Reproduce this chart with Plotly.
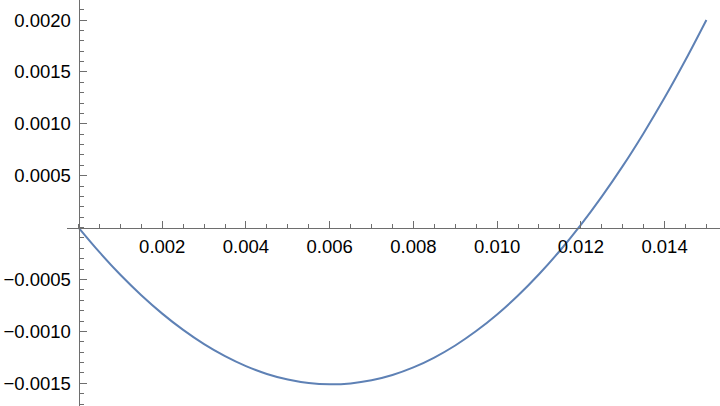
import plotly.graph_objects as go

# curve samples
x_vals = [0.0, 0.0005, 0.001, 0.0015, 0.002, 0.0025, 0.003, 0.0035, 0.004, 0.0045,
          0.005, 0.0055, 0.006, 0.0065, 0.007, 0.0075, 0.008, 0.0085, 0.009, 0.0095,
          0.010, 0.0105, 0.011, 0.0115, 0.012, 0.0125, 0.013, 0.0135, 0.014, 0.0145, 0.015]
y_vals = [0.0, -0.000237, -0.000455, -0.000652, -0.000829, -0.000986, -0.001123, -0.001239,
          -0.001335, -0.001410, -0.001464, -0.001498, -0.001510, -0.001501, -0.001471,
          -0.001420, -0.001347, -0.001252, -0.001136, -0.000997, -0.000837, -0.000655,
          -0.000450, -0.000223, 0.000026, 0.000298, 0.000592, 0.000910, 0.001250,
          0.001614, 0.002000]

x_ticks = [0.002, 0.004, 0.006, 0.008, 0.010, 0.012, 0.014]
x_labels = ["0.002", "0.004", "0.006", "0.008", "0.010", "0.012", "0.014"]
y_ticks = [-0.0015, -0.0010, -0.0005, 0.0005, 0.0010, 0.0015, 0.0020]
y_labels = ["\u22120.0015", "\u22120.0010", "\u22120.0005", "0.0005", "0.0010", "0.0015", "0.0020"]

W, H = 720, 406
L = 67
x_range = [-0.000275, 0.015325]
y_range = [-0.001719, 0.002193]
axis_col = "#6e6e6e"

fig = go.Figure()
fig.add_trace(go.Scatter(
    x=x_vals, y=y_vals, mode="lines", line_shape="spline",
    line=dict(color="#5E81B5", width=2), hoverinfo="skip", showlegend=False,
))

fig.update_layout(
    width=W, height=H,
    margin=dict(l=L, r=0, t=0, b=0),
    plot_bgcolor="white", paper_bgcolor="white",
    font=dict(family="Liberation Sans, Arial", size=18.5, color="black"),
    xaxis=dict(
        range=x_range, anchor="free",
        position=(0 - y_range[0]) / (y_range[1] - y_range[0]),
        showgrid=False, zeroline=False, showline=True, linecolor=axis_col, linewidth=1,
        tickmode="array", tickvals=x_ticks, ticktext=x_labels,
        ticks="inside", ticklen=7, tickcolor=axis_col, ticklabelstandoff=2,
        minor=dict(tickmode="linear", tick0=0, dtick=0.0005, ticks="inside",
                   ticklen=4, tickcolor=axis_col, showgrid=False),
        automargin=False,
    ),
    yaxis=dict(
        range=y_range, anchor="free",
        position=(0 - x_range[0]) / (x_range[1] - x_range[0]),
        showgrid=False, zeroline=False, showline=True, linecolor=axis_col, linewidth=1,
        tickmode="array", tickvals=y_ticks, ticktext=y_labels,
        ticks="inside", ticklen=7, tickcolor=axis_col, ticklabelstandoff=4,
        minor=dict(tickmode="linear", tick0=0, dtick=0.0001, ticks="inside",
                   ticklen=4, tickcolor=axis_col, showgrid=False),
        automargin=False,
    ),
)

# drop the browser's default page margin so the figure sits at the top-left corner
fig.write_html("out.html", config={"displayModeBar": False},
               post_script="document.body.style.margin='0';")
